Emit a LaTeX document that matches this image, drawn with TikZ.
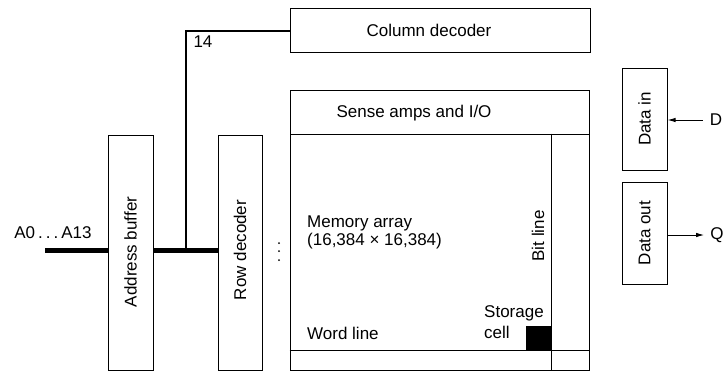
\documentclass[tikz,border=0pt]{standalone}
\usepackage{fontspec}
\setmainfont{Liberation Sans}
\usetikzlibrary{arrows.meta}
\begin{document}
\begin{tikzpicture}[x=1pt,y=-1pt,
  blk/.style={draw,line width=1pt,inner sep=0pt},
  lbl/.style={inner sep=0pt,font=\fontsize{17}{19}\selectfont},
  bus/.style={line width=5pt},
  sig/.style={line width=1pt,-{Latex[length=8pt,width=4.5pt]}}]
  \useasboundingbox (0,0) rectangle (724,386);
  % decoder and buffer blocks
  \node[blk,minimum width=300pt,minimum height=44pt] (coldec) at (440,30) {};
  \node[lbl] at (429,30) {Column decoder};
  \node[blk,minimum width=45pt,minimum height=235pt] (addrbuf) at (130.5,252.5) {};
  \node[lbl,rotate=90] at (130.5,252) {Address buffer};
  \node[blk,minimum width=44pt,minimum height=235pt] (rowdec) at (240,252.5) {};
  \node[lbl,rotate=90] at (240,250) {Row decoder};
  % sense amps on top of the array
  \node[blk,minimum width=299pt,minimum height=44pt] (sense) at (439.5,112) {};
  \node[lbl] at (414,113) {Sense amps and I/O};
  \node[blk,minimum width=299pt,minimum height=236pt] (array) at (439.5,252) {};
  % word line strip and bit line column
  \coordinate (bitx) at (551,0);
  \draw[line width=1pt] ([yshift=20pt]array.south west) -- ([yshift=20pt]array.south east);
  \draw[line width=1pt] (array.north -| bitx) -- (array.south -| bitx);
  \fill (526,326) rectangle (551,350);
  \node[lbl,anchor=base west] at (307,227) {Memory array};
  \node[lbl,anchor=base west] at (307,245) {(16,384 × 16,384)};
  \node[lbl,anchor=base west] at (307,339) {Word line};
  \node[lbl,anchor=base west] at (484,317) {Storage};
  \node[lbl,anchor=base west] at (484,338) {cell};
  \node[lbl,rotate=90] at (538,236) {Bit line};
  % dots between row decoder and array
  \foreach \y in {243,251,260}
    \fill (279,\y) circle (1pt);
  % data in / data out
  \node[blk,minimum width=45pt,minimum height=102pt] (datain) at (644.5,119) {};
  \node[lbl,rotate=90] at (644.5,119) {Data in};
  \node[blk,minimum width=45pt,minimum height=102pt] (dataout) at (644.5,233) {};
  \node[lbl,rotate=90] at (644.5,233) {Data out};
  \node[lbl] (d) at (716,120) {D};
  \node[lbl] (q) at (717,235) {Q};
  \draw[sig] ([xshift=-7pt]d.west) -- (datain.east |- d);
  \draw[sig] (dataout.east |- q) -- ([xshift=-6pt]q.west);
  % address bus
  \node[lbl] (ain) at (53,233) {A0\hspace{3pt}.\hspace{3pt}.\hspace{3pt}.\hspace{3pt}A13};
  \coordinate (busl) at (45,250);
  \coordinate (tap) at (186,250);
  \draw[bus] (busl) -- (busl -| addrbuf.west);
  \draw[bus] (addrbuf.east |- busl) -- (rowdec.west |- busl);
  \draw[line width=1.5pt] (tap) |- ([yshift=-1pt]coldec.west);
  \node[lbl] at (203,42) {14};
\end{tikzpicture}
\end{document}
